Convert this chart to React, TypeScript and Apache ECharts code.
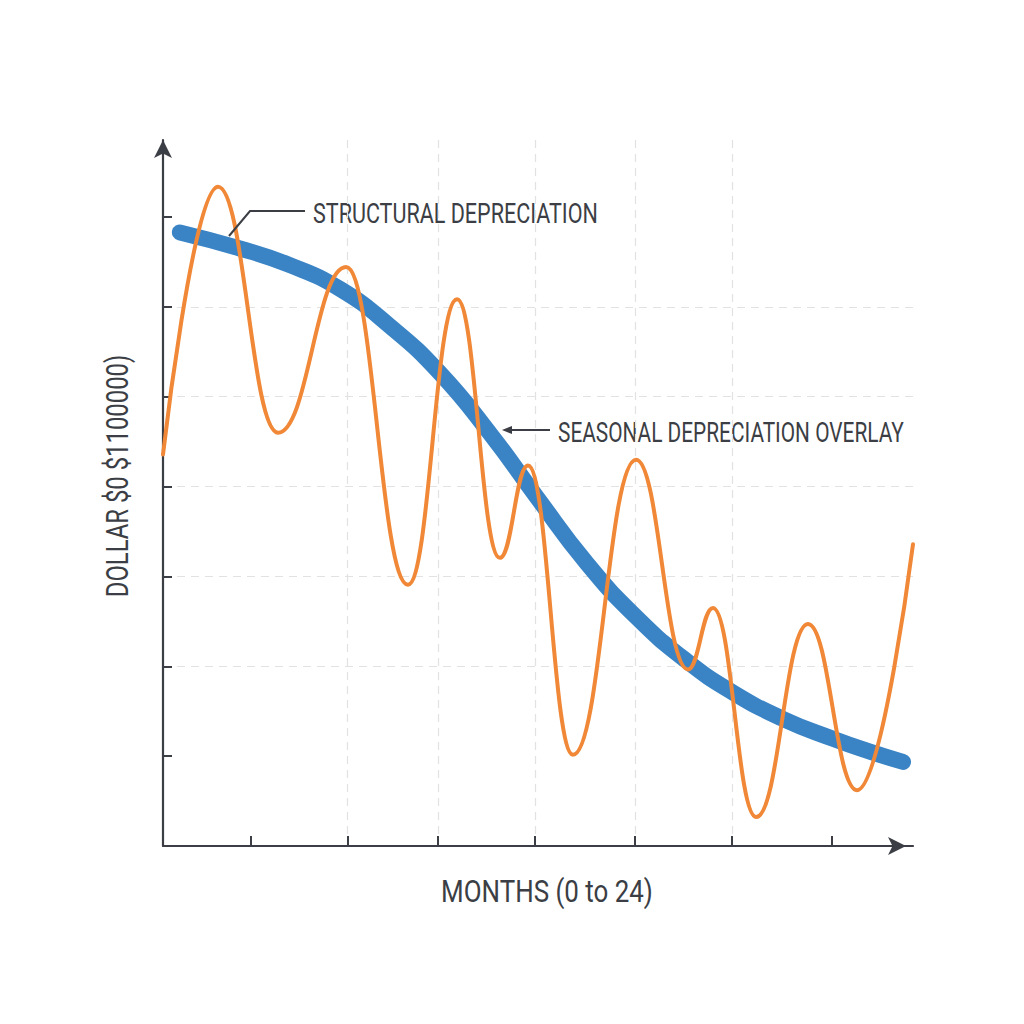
import React, { useEffect, useRef } from "react";
import * as echarts from "echarts";

// Axis tick positions (months / thousands of dollars)
const monthTicks = [2.8, 5.9, 8.8, 11.9, 15.1, 18.2, 21.4];
const extraMonthGrid = [5.35];
const dollarTicks = [140, 280, 420, 560, 700, 840, 980];

// Long-run structural depreciation ($k)
const structuralMonths = [0.54, 2.46, 4.06, 5.66, 7.26, 8.86, 10.46, 11.94, 13.54, 15.14, 16.74, 18.24, 19.84, 21.44, 22.62, 23.68];
const structuralValues = [956, 931, 905, 868, 810, 737, 643, 545, 442, 357, 289, 239, 198, 167, 147, 131];

// Seasonal swings around the trend ($k), peaks and troughs
const seasonalMonths = [0, 1.76, 3.68, 5.86, 7.84, 9.41, 10.78, 11.68, 13.12, 15.14, 16.8, 17.6, 18.98, 20.64, 22.21, 24.0];
const seasonalValues = [610, 1027, 644, 902, 407, 852, 449, 593, 142, 602, 275, 371, 45, 346, 87, 470];

const xTitle = "MONTHS (0 to 24)";
const yTitle = "DOLLAR $0 $1100000)";
const structuralLabel = "STRUCTURAL DEPRECIATION";
const seasonalLabel = "SEASONAL DEPRECIATION OVERLAY";

const INK = "#3b3e44";
const GRID = "#e2e2e2";
const BLUE = "#3a84c6";
const ORANGE = "#f08837";
const FONT = "Roboto, 'Noto Sans', sans-serif";

const zip = (xs: number[], ys: number[]) => xs.map((x, i) => [x, ys[i]]);

export default function App() {
  const ref = useRef<HTMLDivElement | null>(null);

  useEffect(() => {
    if (!ref.current) return;
    const chart = echarts.init(ref.current, undefined, { renderer: "svg" });

    const dashed = { type: [8, 6] as any, color: GRID, width: 1.2 };

    chart.setOption({
      animation: false,
      backgroundColor: "#ffffff",
      grid: { left: 163, top: 140, width: 750, height: 706, containLabel: false },
      xAxis: [
        {
          type: "value",
          min: 0,
          max: 24,
          axisLine: {
            show: true,
            onZero: false,
            symbol: ["none", "arrow"],
            symbolSize: [13.5, 18],
            symbolOffset: [0, -7],
            lineStyle: { color: INK, width: 2.2 },
          },
          axisTick: {
            show: true,
            inside: true,
            length: 10,
            customValues: monthTicks,
            lineStyle: { color: INK, width: 2 },
          },
          axisLabel: { show: false },
          splitLine: { show: true, showMinLine: false, showMaxLine: false, lineStyle: dashed },
        },
        {
          type: "value",
          min: 0,
          max: 24,
          position: "bottom",
          axisLine: { show: false },
          axisTick: { show: true, length: 0, customValues: extraMonthGrid, lineStyle: { width: 0 } },
          axisLabel: { show: false },
          splitLine: { show: true, showMinLine: false, showMaxLine: false, lineStyle: dashed },
        },
      ],
      yAxis: {
        type: "value",
        min: 0,
        max: 1100,
        interval: 140,
        axisLine: {
          show: true,
          onZero: false,
          symbol: ["none", "arrow"],
          symbolSize: [13.5, 18],
          lineStyle: { color: INK, width: 2.2 },
        },
        axisTick: {
          show: true,
          inside: true,
          length: 9,
          customValues: dollarTicks,
          lineStyle: { color: INK, width: 2 },
        },
        axisLabel: { show: false },
        splitLine: { show: true, showMinLine: false, showMaxLine: false, lineStyle: dashed },
      },
      series: [
        {
          name: structuralLabel,
          type: "line",
          xAxisIndex: 0,
          data: zip(structuralMonths, structuralValues),
          showSymbol: false,
          smooth: true,
          lineStyle: { width: 16, color: BLUE, cap: "round", join: "round" },
          z: 2,
        },
        {
          name: seasonalLabel,
          type: "line",
          xAxisIndex: 0,
          data: zip(seasonalMonths, seasonalValues),
          showSymbol: false,
          smooth: 0.44,
          smoothMonotone: "x",
          lineStyle: { width: 4, color: ORANGE, cap: "round", join: "round" },
          z: 3,
        },
      ],
      graphic: [
        {
          type: "text",
          x: 117,
          y: 476,
          rotation: Math.PI / 2,
          scaleX: 0.77,
          style: {
            text: yTitle,
            fontFamily: FONT,
            fontSize: 31,
            fill: INK,
            textAlign: "center",
            textVerticalAlign: "middle",
          },
        },
        {
          type: "text",
          x: 547,
          y: 891,
          scaleX: 0.81,
          style: {
            text: xTitle,
            fontFamily: FONT,
            fontSize: 32,
            fill: INK,
            textAlign: "center",
            textVerticalAlign: "middle",
          },
        },
        {
          type: "text",
          x: 313,
          y: 213,
          scaleX: 0.77,
          style: {
            text: structuralLabel,
            fontFamily: FONT,
            fontSize: 28,
            fill: INK,
            textAlign: "left",
            textVerticalAlign: "middle",
          },
        },
        {
          type: "polyline",
          shape: { points: [[305, 211], [250, 211], [229, 236]] },
          style: { stroke: INK, lineWidth: 2, fill: "none" },
          z: 10,
        },
        {
          type: "text",
          x: 558,
          y: 432,
          scaleX: 0.745,
          style: {
            text: seasonalLabel,
            fontFamily: FONT,
            fontSize: 28,
            fill: INK,
            textAlign: "left",
            textVerticalAlign: "middle",
          },
        },
        {
          type: "line",
          shape: { x1: 550, y1: 430, x2: 508, y2: 430 },
          style: { stroke: INK, lineWidth: 2 },
          z: 10,
        },
        {
          type: "polygon",
          shape: { points: [[502, 430], [512, 426], [512, 434]] },
          style: { fill: INK },
          z: 10,
        },
      ],
    });

    return () => chart.dispose();
  }, []);

  return (
    <div
      ref={ref}
      style={{ position: "fixed", left: 0, top: 0, width: 1024, height: 1024, background: "#fff" }}
    />
  );
}
